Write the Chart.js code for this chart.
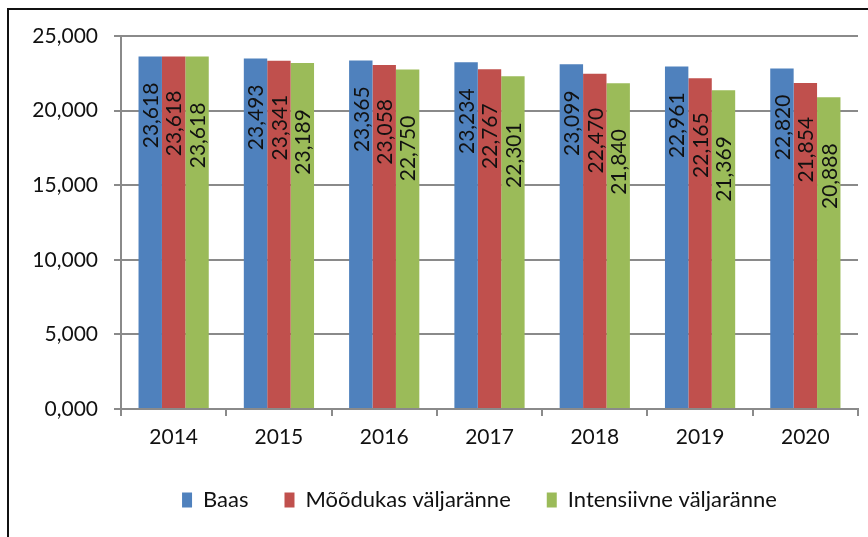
<!DOCTYPE html>
<html>
<head>
<meta charset="utf-8">
<script src="https://cdn.jsdelivr.net/npm/chart.js@4.4.1/dist/chart.umd.min.js"></script>
<style>
  html, body { margin: 0; padding: 0; background: #ffffff; overflow: hidden; }
  #wrap { position: relative; width: 868px; height: 537px; }
  #frame { position: absolute; left: 7px; top: 8px; width: 900px; height: 600px; border: 2px solid #111; box-sizing: border-box; pointer-events: none; }
  canvas { position: absolute; left: 0; top: 0; }
</style>
</head>
<body>
<div id="wrap">
  <canvas id="c" width="868" height="537"></canvas>
  <div id="frame"></div>
</div>
<script>
const years = ['2014', '2015', '2016', '2017', '2018', '2019', '2020'];
const seriesNames = ['Baas', 'Mõõdukas väljaränne', 'Intensiivne väljaränne'];
const baas = [23.618, 23.493, 23.365, 23.234, 23.099, 22.961, 22.820];
const moodukas = [23.618, 23.341, 23.058, 22.767, 22.470, 22.165, 21.854];
const intensiivne = [23.618, 23.189, 22.750, 22.301, 21.840, 21.369, 20.888];
const yTicks = [0, 5, 10, 15, 20, 25];

const FONT = 'Lato, "Open Sans", sans-serif';
const fmt = v => Number(v).toFixed(3).replace('.', ',');

const barLabels = {
  id: 'barLabels',
  afterDatasetsDraw(chart) {
    const ctx = chart.ctx;
    chart.data.datasets.forEach((ds, di) => {
      const meta = chart.getDatasetMeta(di);
      meta.data.forEach((el, i) => {
        ctx.save();
        ctx.translate(el.x, el.y + ds.labelOffset);
        ctx.rotate(-Math.PI / 2);
        ctx.font = '21px ' + FONT;
        ctx.fillStyle = '#111111';
        ctx.textAlign = 'right';
        ctx.textBaseline = 'middle';
        ctx.fillText(fmt(ds.data[i]), 0, 1);
        ctx.restore();
      });
    });
  }
};

// fix the legend box height and horizontal placement to match the reference
const legendPlace = {
  id: 'legendPlace',
  beforeUpdate(chart) {
    const lg = chart.legend;
    if (lg && !lg._fixedFit) {
      const orig = lg.fit;
      lg.fit = function () { orig.call(this); this.height = 84; };
      lg._fixedFit = true;
    }
  },
  afterLayout(chart) {
    const lg = chart.legend;
    if (lg) { lg.left -= 10; lg.right -= 10; }
  }
};

const grey = '#8a8a8a';

new Chart(document.getElementById('c'), {
  type: 'bar',
  data: {
    labels: years,
    datasets: [
      { label: seriesNames[0], data: baas, backgroundColor: '#4F81BD', labelOffset: 26 },
      { label: seriesNames[1], data: moodukas, backgroundColor: '#C0504D', labelOffset: 34 },
      { label: seriesNames[2], data: intensiivne, backgroundColor: '#9BBB59', labelOffset: 46 }
    ]
  },
  options: {
    responsive: false,
    animation: false,
    devicePixelRatio: 1,
    categoryPercentage: 0.667,
    barPercentage: 1.0,
    layout: { padding: { left: 0, right: 10, top: 36, bottom: 0 } },
    plugins: {
      tooltip: { enabled: false },
      legend: {
        position: 'bottom',
        fullSize: false,
        labels: {
          font: { family: FONT, size: 22 },
          color: '#111111',
          boxWidth: 10,
          boxHeight: 15,
          padding: 36
        }
      }
    },
    scales: {
      x: {
        grid: { display: true, drawOnChartArea: false, drawTicks: true, tickLength: 7, color: grey, lineWidth: 2, offset: true },
        border: { display: true, color: grey, width: 2 },
        ticks: { font: { family: FONT, size: 21 }, color: '#111111', padding: 9, maxRotation: 0 },
        afterFit(scale) { scale.height = 44; }
      },
      y: {
        min: 0,
        max: 25,
        afterBuildTicks(scale) { scale.ticks = yTicks.map(v => ({ value: v })); },
        grid: { color: grey, lineWidth: 2, drawTicks: true, tickLength: 7 },
        border: { display: true, color: grey, width: 2 },
        ticks: { font: { family: FONT, size: 21 }, color: '#111111', padding: 16, callback: v => fmt(v) },
        afterFit(scale) { scale.width = 121; }
      }
    }
  },
  plugins: [barLabels, legendPlace]
});
</script>
</body>
</html>
